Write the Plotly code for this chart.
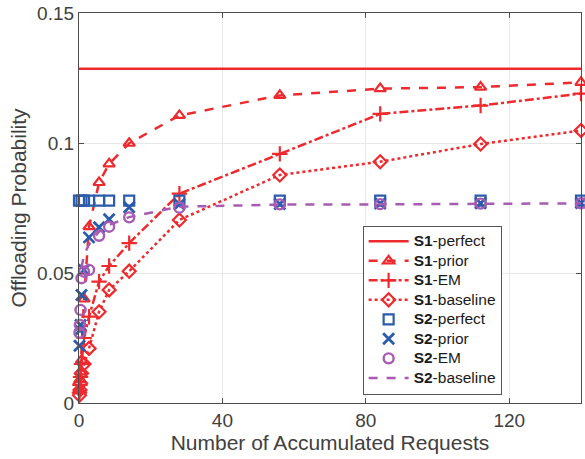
import plotly.graph_objects as go

# ---- data ----
x_all = [0.14, 0.28, 0.42, 0.7, 1.4, 2.8, 5.6, 8.4, 14, 28, 56, 84, 112, 140]
x_perfect = [0, 140]

s1_perfect = [0.1286, 0.1286]
s1_prior = [0.005, 0.009, 0.012, 0.0165, 0.040, 0.0678, 0.0848, 0.0920, 0.0999, 0.1106, 0.1183, 0.1209, 0.1215, 0.1233]
s1_em = [0.004, 0.007, 0.010, 0.015, 0.025, 0.0332, 0.0467, 0.0527, 0.0615, 0.0805, 0.0958, 0.1112, 0.1144, 0.1190]
s1_base = [0.003, 0.005, 0.0076, 0.0114, 0.015, 0.021, 0.0351, 0.0435, 0.0507, 0.0704, 0.0877, 0.0928, 0.0996, 0.1048]

x_s2p = [0, 0.7, 1.4, 2.8, 5.6, 8.4, 14, 28, 56, 84, 112, 140]
s2_perfect = [0.0778] * 12
s2_prior = [0.0220, 0.0280, 0.0300, 0.0415, 0.0512, 0.0637, 0.0676, 0.0707, 0.0753, 0.0764, 0.0765, 0.0767, 0.0768, 0.0769]
s2_em = [0.0270, 0.0300, 0.0358, 0.0480, 0.0505, 0.0512, 0.0643, 0.0678, 0.0714, 0.0751, 0.0764, 0.0765, 0.0767, 0.0768]
x_s2b = [0.7, 1.4, 2.8, 5.6, 8.4, 14, 28, 56, 84, 112, 140]
s2_base = [0.0520, 0.0570, 0.0610, 0.0660, 0.0685, 0.0715, 0.0755, 0.0763, 0.0764, 0.0766, 0.0768]

series_names = ['S1-perfect', 'S1-prior', 'S1-EM', 'S1-baseline',
                'S2-perfect', 'S2-prior', 'S2-EM', 'S2-baseline']

RED = '#EE2A2E'
BLUE = '#2B5CAB'
PURPLE = '#A85BB3'


def legend_label(name):
    head, tail = name.split('-', 1)
    return '<span style="font-size:15.5px"><b>%s</b>-%s</span>' % (head, tail)


fig = go.Figure()

fig.add_trace(go.Scatter(x=x_perfect, y=s1_perfect, mode='lines', name=legend_label(series_names[0]),
                         line=dict(color=RED, width=2.5)))
fig.add_trace(go.Scatter(x=x_all, y=s1_prior, mode='lines+markers', name=legend_label(series_names[1]),
                         line=dict(color=RED, width=2.5, dash='dash'),
                         marker=dict(symbol='triangle-up-open', size=10, color=RED, line=dict(width=2.2, color=RED))))
fig.add_trace(go.Scatter(x=x_all, y=s1_em, mode='lines+markers', name=legend_label(series_names[2]),
                         line=dict(color=RED, width=2.5, dash='dashdot'),
                         marker=dict(symbol='cross-thin-open', size=11, color=RED, line=dict(width=2.2, color=RED))))
fig.add_trace(go.Scatter(x=x_all, y=s1_base, mode='lines+markers', name=legend_label(series_names[3]),
                         line=dict(color=RED, width=2.5, dash='dot'),
                         marker=dict(symbol='diamond-open', size=10, color=RED, line=dict(width=2.2, color=RED))))
fig.add_trace(go.Scatter(x=x_s2p, y=s2_perfect, mode='markers', name=legend_label(series_names[4]),
                         marker=dict(symbol='square-open', size=10, color=BLUE, line=dict(width=2.2, color=BLUE))))
fig.add_trace(go.Scatter(x=x_all, y=s2_prior, mode='markers', name=legend_label(series_names[5]),
                         marker=dict(symbol='x-thin-open', size=11, color=BLUE, line=dict(width=2.8, color=BLUE))))
fig.add_trace(go.Scatter(x=x_all, y=s2_em, mode='markers', name=legend_label(series_names[6]),
                         marker=dict(symbol='circle-open', size=10, color=PURPLE, line=dict(width=2.4, color=PURPLE))))
fig.add_trace(go.Scatter(x=x_s2b, y=s2_base, mode='lines', name=legend_label(series_names[7]),
                         line=dict(color=PURPLE, width=2.5, dash='dash')))

for tr in fig.data:
    tr.cliponaxis = False

axis_common = dict(
    showline=True, linecolor='#4D4D4D', linewidth=1.2, mirror='ticks',
    ticks='inside', ticklen=5, tickcolor='#4D4D4D', tickwidth=1,
    showgrid=True, gridcolor='#E8E8E8', gridwidth=1, zeroline=False,
    tickfont=dict(family='Liberation Sans, Arial, sans-serif', size=19, color='#404040'),
)

fig.update_layout(
    width=585, height=459,
    margin=dict(l=79, r=4, t=13, b=56),
    paper_bgcolor='white', plot_bgcolor='white',
    font=dict(family='Liberation Sans, Arial, sans-serif', color='#404040'),
    xaxis=dict(range=[0, 140], tickvals=[0, 40, 80, 120], ticktext=['0', '40', '80', '120'],
               title=dict(text='Number of Accumulated Requests', font=dict(size=21, color='#404040'), standoff=2),
               **axis_common),
    yaxis=dict(range=[0, 0.15], tickvals=[0, 0.05, 0.1, 0.15], ticktext=['0', '0.05', '0.1', '0.15'],
               title=dict(text='Offloading Probability', font=dict(size=21, color='#404040'), standoff=4),
               **axis_common),
    legend=dict(x=0.565, y=0.455, xanchor='left', yanchor='top',
                bgcolor='white', bordercolor='#555555', borderwidth=1,
                font=dict(size=12.7, color='#1a1a1a'), tracegroupgap=0, itemwidth=40),
    showlegend=True,
)

fig.write_html('out.html')
